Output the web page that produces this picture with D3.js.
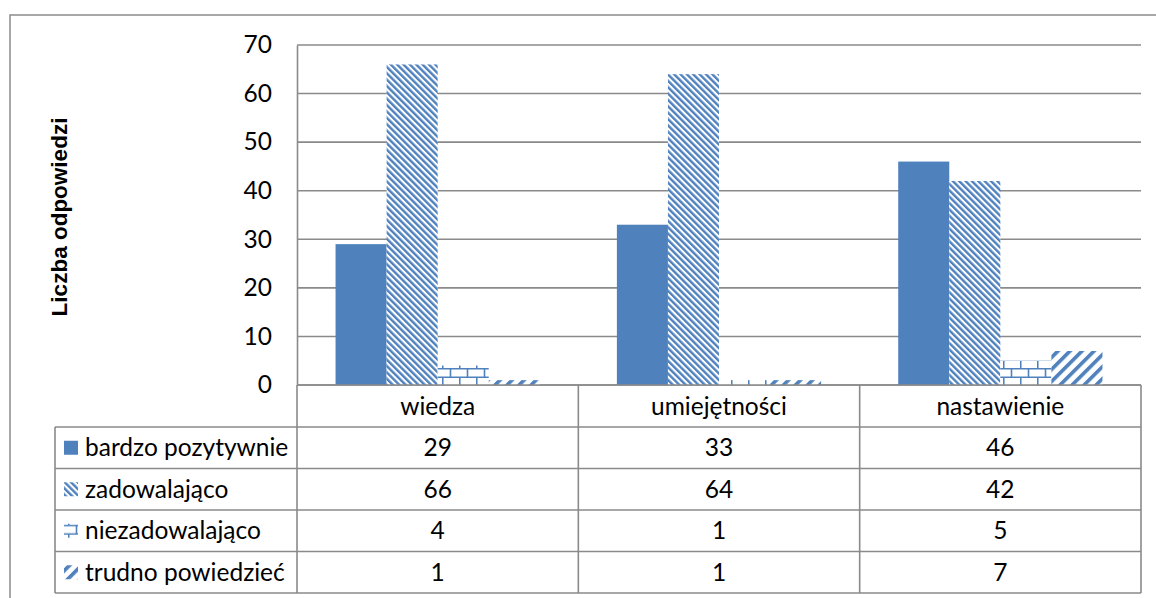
<!DOCTYPE html>
<html>
  <head>
    <meta charset="utf-8">
    <title>Liczba odpowiedzi</title>
    <script src="https://cdnjs.cloudflare.com/ajax/libs/d3/7.8.5/d3.min.js"></script>
    <style>
      body { margin: 0; background: #fff; }
      text { font-family: Lato, "Open Sans", sans-serif; fill: #000; }
    </style>
  </head>
  <body>

    <script>
      var categories = ["wiedza", "umiejętności", "nastawienie"];
      var seriesNames = ["bardzo pozytywnie", "zadowalająco", "niezadowalająco", "trudno powiedzieć"];
      var bardzoPozytywnie = [29, 33, 46];
      var zadowalajaco = [66, 64, 42];
      var niezadowalajaco = [4, 1, 5];
      var trudnoPowiedziec = [1, 1, 7];
      var yTicks = [0, 10, 20, 30, 40, 50, 60, 70];

      var seriesValues = [bardzoPozytywnie, zadowalajaco, niezadowalajaco, trudnoPowiedziec];
      var fills = ["#4F81BD", "url(#pZad)", "url(#pNie)", "url(#pTru)"];
      var blue = "#4F81BD", grid = "#8a8a8a";
      var fontSize = "24.5px";

      var W = 1156, H = 598;
      var plotLeft = 297, plotRight = 1141, plotTop = 45, plotBottom = 385;
      var tableLeft = 55, headH = 42, rowH = 41.5;

      var svg = d3.select("body").append("svg")
        .attr("width", W)
        .attr("height", H);

      // patterns
      var defs = svg.append("defs");
      var p1 = defs.append("pattern").attr("id", "pZad")
        .attr("patternUnits", "userSpaceOnUse")
        .attr("width", 4.5).attr("height", 4.5)
        .attr("patternTransform", "rotate(-45)");
      p1.append("rect").attr("width", 4.5).attr("height", 4.5).attr("fill", "#fff");
      p1.append("rect").attr("width", 2.4).attr("height", 4.5).attr("fill", blue);

      var p3 = defs.append("pattern").attr("id", "pTru")
        .attr("patternUnits", "userSpaceOnUse")
        .attr("width", 8.5).attr("height", 8.5)
        .attr("patternTransform", "rotate(45)");
      p3.append("rect").attr("width", 8.5).attr("height", 8.5).attr("fill", "#fff");
      p3.append("rect").attr("width", 3.6).attr("height", 8.5).attr("fill", blue);

      var p2 = defs.append("pattern").attr("id", "pNie")
        .attr("patternUnits", "userSpaceOnUse")
        .attr("x", 0).attr("y", plotBottom)
        .attr("width", 17).attr("height", 17);
      p2.append("rect").attr("width", 17).attr("height", 17).attr("fill", "#fff");
      p2.append("path")
        .attr("d", "M0,0.75H17M0,9.25H17M8.5,0V8.5M0.75,8.5V17")
        .attr("stroke", blue).attr("stroke-width", 1.6).attr("fill", "none");

      // outer frame
      svg.append("rect")
        .attr("x", 10).attr("y", 15)
        .attr("width", 1170).attr("height", 620)
        .attr("fill", "none").attr("stroke", "#8c8c8c").attr("stroke-width", 1.5);

      var x = d3.scaleBand().domain(categories).range([plotLeft, plotRight]);
      var x1 = d3.scaleBand().domain(d3.range(seriesNames.length))
        .range([0, x.bandwidth()]).paddingOuter(0.755);
      var y = d3.scaleLinear().domain([0, 70]).range([plotBottom, plotTop]);

      // gridlines
      svg.append("g").selectAll("line").data(yTicks).join("line")
        .attr("x1", plotLeft).attr("x2", plotRight)
        .attr("y1", d => y(d)).attr("y2", d => y(d))
        .attr("stroke", grid).attr("stroke-width", 1.6);

      // y axis
      var yAxis = svg.append("g")
        .attr("transform", "translate(" + plotLeft + ",0)")
        .call(d3.axisLeft(y).tickValues(yTicks).tickSize(0).tickPadding(25));
      yAxis.select(".domain").attr("stroke", grid).attr("stroke-width", 1.6);
      yAxis.selectAll("text").style("font-size", fontSize).style("font-family", "Lato, sans-serif").attr("fill", "#000");

      svg.append("text")
        .attr("transform", "translate(67," + 217 + ") rotate(-90)")
        .attr("text-anchor", "middle")
        .style("font-family", "'Liberation Sans', Arial, sans-serif")
        .style("font-weight", "bold")
        .style("font-size", "22.5px")
        .text("Liczba odpowiedzi");

      // bars
      var groups = svg.append("g").selectAll("g").data(seriesValues).join("g")
        .attr("fill", (d, i) => fills[i]);
      groups.selectAll("rect").data((d, i) => d.map((v, j) => ({ s: i, c: categories[j], v: v })))
        .join("rect")
        .attr("x", d => x(d.c) + x1(d.s))
        .attr("width", x1.bandwidth())
        .attr("y", d => y(d.v))
        .attr("height", d => plotBottom - y(d.v));

      // data table
      var rowY = function (i) { return plotBottom + headH + i * rowH; };
      var table = svg.append("g").attr("stroke", grid).attr("stroke-width", 1.6);
      table.append("line").attr("x1", plotLeft).attr("x2", plotRight).attr("y1", plotBottom).attr("y2", plotBottom);
      table.selectAll(".h").data(d3.range(seriesNames.length + 1)).join("line")
        .attr("x1", tableLeft).attr("x2", plotRight)
        .attr("y1", d => rowY(d)).attr("y2", d => rowY(d));
      table.append("line").attr("x1", tableLeft).attr("x2", tableLeft)
        .attr("y1", rowY(0)).attr("y2", rowY(seriesNames.length));
      table.selectAll(".v").data(categories.map(c => x(c)).concat([plotRight])).join("line")
        .attr("x1", d => d).attr("x2", d => d)
        .attr("y1", plotBottom).attr("y2", rowY(seriesNames.length));

      svg.append("g").selectAll("text").data(categories).join("text")
        .attr("x", d => x(d) + x.bandwidth() / 2)
        .attr("y", plotBottom + headH / 2)
        .attr("dy", "0.35em")
        .attr("text-anchor", "middle")
        .style("font-size", fontSize)
        .text(d => d);

      var rows = svg.append("g").selectAll("g").data(seriesNames).join("g")
        .attr("transform", (d, i) => "translate(0," + (rowY(i) + rowH / 2) + ")");
      rows.append("rect")
        .attr("x", 64).attr("y", -7).attr("width", 14).attr("height", 14)
        .attr("fill", (d, i) => fills[i]);
      rows.append("text")
        .attr("x", 85).attr("dy", "0.35em")
        .style("font-size", fontSize)
        .text(d => d);
      rows.selectAll(".val").data((d, i) => seriesValues[i]).join("text")
        .attr("x", (d, j) => x(categories[j]) + x.bandwidth() / 2)
        .attr("dy", "0.35em")
        .attr("text-anchor", "middle")
        .style("font-size", fontSize)
        .text(d => d);
    </script>

  </body>
</html>
